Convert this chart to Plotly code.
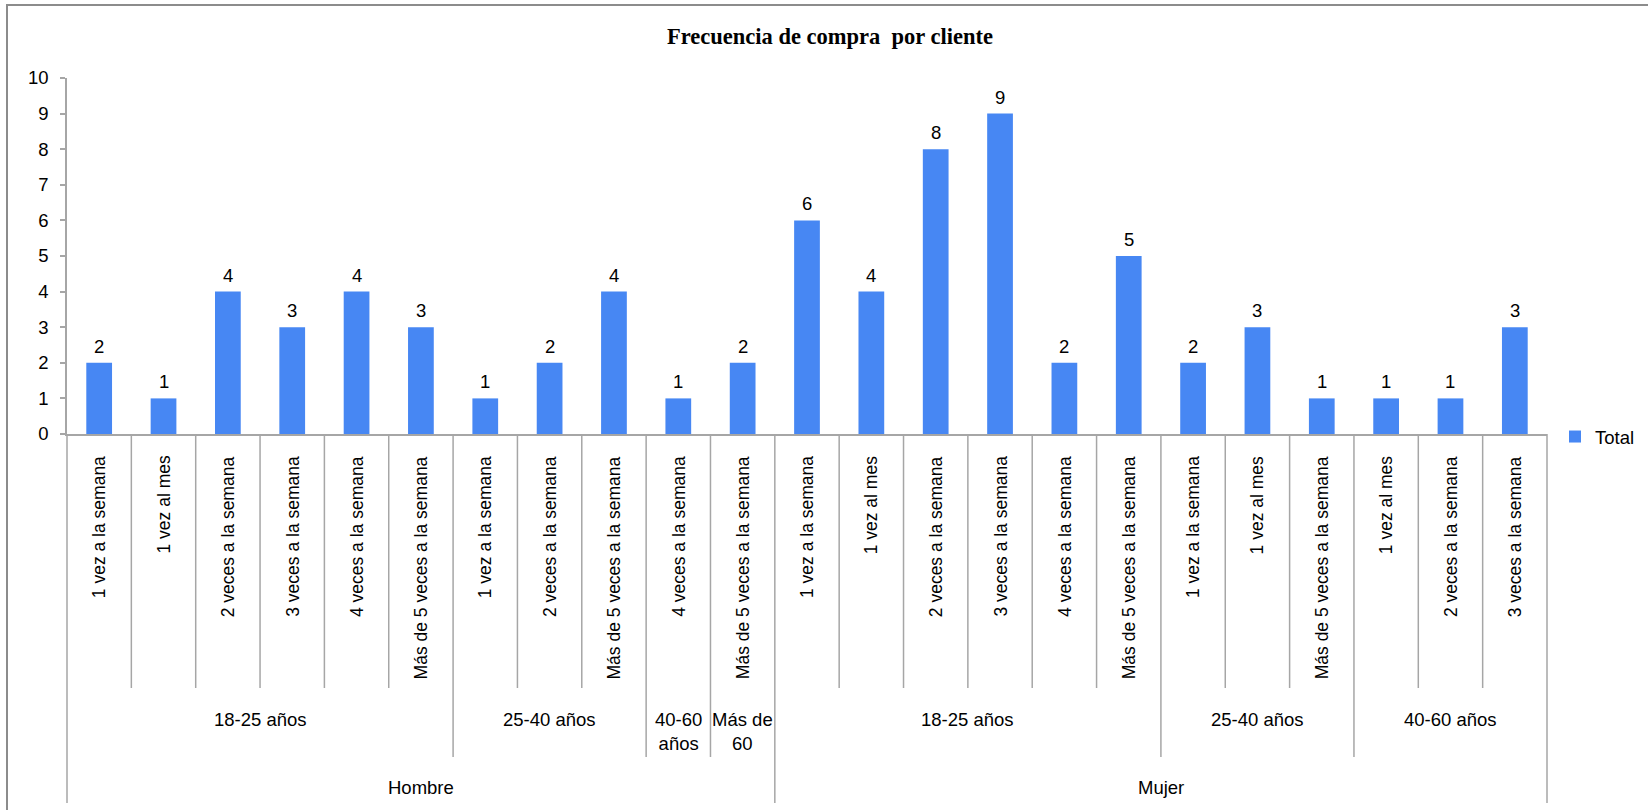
import plotly.graph_objects as go

# --- data -----------------------------------------------------------------
generos = ["Hombre"] * 11 + ["Mujer"] * 12
edades = (["18-25 años"] * 6 + ["25-40 años"] * 3 + ["40-60<br>años"] + ["Más de<br>60"]
          + ["18-25 años"] * 6 + ["25-40 años"] * 3 + ["40-60 años"] * 3)
frecuencias = [
    "1 vez a la semana", "1 vez al mes", "2 veces a la semana", "3 veces a la semana",
    "4 veces a la semana", "Más de 5 veces a la semana",
    "1 vez a la semana", "2 veces a la semana", "Más de 5 veces a la semana",
    "4 veces a la semana",
    "Más de 5 veces a la semana",
    "1 vez a la semana", "1 vez al mes", "2 veces a la semana", "3 veces a la semana",
    "4 veces a la semana", "Más de 5 veces a la semana",
    "1 vez a la semana", "1 vez al mes", "Más de 5 veces a la semana",
    "1 vez al mes", "2 veces a la semana", "3 veces a la semana",
]
valores = [2, 1, 4, 3, 4, 3, 1, 2, 4, 1, 2, 6, 4, 8, 9, 2, 5, 2, 3, 1, 1, 1, 3]
titulo = "Frecuencia de compra\u00a0 por cliente"

# --- layout geometry (pixels) ----------------------------------------------
W, H = 1648, 810
L, R, T, B = 67, 1547, 78, 434          # plot area edges
N = len(valores)
FONT = "Liberation Sans, Arial, sans-serif"
FS_H = 18.5                              # horizontal texts
FS_V = 17.5                              # rotated category texts
GRID = "#a6a6a6"
BAR = "#4787f3"


def yp(py):
    """pixel row -> paper y"""
    return (B - py) / (B - T)


def xp(px):
    """pixel column -> paper x"""
    return (px - L) / (R - L)


def cat_paper(edge):
    """category boundary (index) -> paper x"""
    return edge / N


x = list(range(N))

fig = go.Figure()
fig.add_trace(go.Bar(
    x=x, y=valores, name="Total", width=0.40,
    marker=dict(color=BAR, line=dict(width=0)),
    showlegend=True,
))

annotations = []
shapes = []

# value labels above each bar
for xi, v in zip(x, valores):
    annotations.append(dict(
        x=xi, y=v, xref="x", yref="y", text=str(v), showarrow=False,
        yanchor="bottom", yshift=4, font=dict(family=FONT, size=FS_H, color="#000"),
    ))

# innermost level: rotated frequency labels
for xi, f in zip(x, frecuencias):
    annotations.append(dict(
        x=xi, y=yp(454), xref="x", yref="paper", text=f, showarrow=False,
        textangle=-90, xanchor="center", yanchor="top",
        font=dict(family=FONT, size=FS_V, color="#000"),
    ))


def runs(keys):
    out = []
    start = 0
    for i in range(1, len(keys) + 1):
        if i == len(keys) or keys[i] != keys[start]:
            out.append((start, i, keys[start]))
            start = i
    return out


gen_runs = runs(generos)
age_keys = [g + "|" + e for g, e in zip(generos, edades)]
age_runs = runs(age_keys)

# divider depths
D_CAT, D_AGE, D_GEN = 688, 757, 803
gen_edges = {s for s, e, k in gen_runs} | {N}
age_edges = {s for s, e, k in age_runs} | {N}
for edge in range(N + 1):
    if edge in gen_edges:
        bottom = D_GEN
    elif edge in age_edges:
        bottom = D_AGE
    else:
        bottom = D_CAT
    shapes.append(dict(
        type="line", xref="paper", yref="paper",
        x0=cat_paper(edge), x1=cat_paper(edge), y0=yp(B), y1=yp(bottom),
        line=dict(color=GRID, width=1.5),
    ))

# middle level: age groups
for s, e, k in age_runs:
    annotations.append(dict(
        x=(s + e - 1) / 2, y=yp(707), xref="x", yref="paper",
        text=k.split("|")[1], showarrow=False, xanchor="center", yanchor="top",
        font=dict(family=FONT, size=FS_H, color="#000"),
    ))

# outer level: gender
for s, e, k in gen_runs:
    annotations.append(dict(
        x=(s + e - 1) / 2, y=yp(787), xref="x", yref="paper",
        text=k, showarrow=False, xanchor="center", yanchor="middle",
        font=dict(family=FONT, size=FS_H, color="#000"),
    ))

# chart title
annotations.append(dict(
    x=xp(830), y=yp(36), xref="paper", yref="paper", text="<b>" + titulo + "</b>",
    showarrow=False, xanchor="center", yanchor="middle",
    font=dict(family="Liberation Serif, Times New Roman, serif", size=22.5, color="#000"),
))

# outer chart frame
shapes.append(dict(
    type="rect", xref="paper", yref="paper",
    x0=xp(7), x1=xp(1700), y0=yp(5), y1=yp(860),
    line=dict(color="#8c8c8c", width=2),
))

fig.update_layout(
    width=W, height=H,
    margin=dict(l=L, r=W - R, t=T, b=H - B, pad=0, autoexpand=False),
    paper_bgcolor="white", plot_bgcolor="white",
    bargap=0.6,
    xaxis=dict(range=[-0.5, N - 0.5], showticklabels=False, showgrid=False,
               zeroline=False, showline=True, linecolor=GRID, linewidth=1.5,
               ticks="", fixedrange=True),
    yaxis=dict(range=[0, 10], dtick=1, tick0=0, showgrid=False, zeroline=False,
               showline=True, linecolor=GRID, linewidth=1.5,
               ticks="outside", ticklen=5, tickcolor=GRID, tickwidth=1.5,
               ticklabelstandoff=8,
               tickfont=dict(family=FONT, size=FS_H, color="#000")),
    legend=dict(x=xp(1555), y=yp(418), xanchor="left", yanchor="top",
                font=dict(family=FONT, size=FS_H, color="#000"),
                bgcolor="rgba(0,0,0,0)", borderwidth=0),
    showlegend=True,
    annotations=annotations,
    shapes=shapes,
)

fig.write_html("out.html")
